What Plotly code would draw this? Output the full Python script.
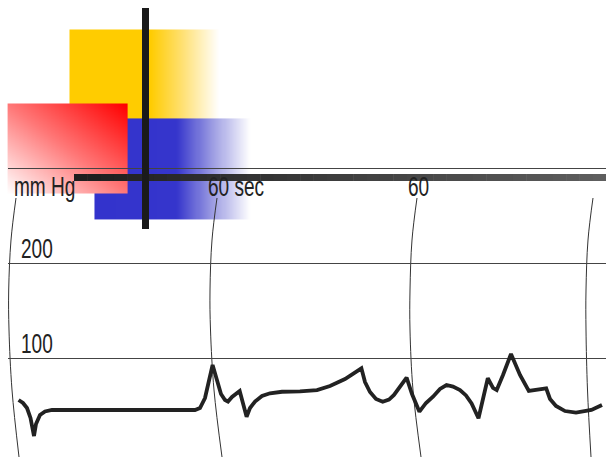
import numpy as np
import plotly.graph_objects as go

# ---- data -------------------------------------------------------------
# blood-pressure trace (x position along the strip, pressure in mmHg)
trace_x = [18.6, 23, 27, 30.5, 34, 36, 40, 45, 52, 195, 200, 205, 212.6, 216, 221, 225, 228,
           232, 239.7, 246.6, 250, 255, 262, 270, 282, 300, 317, 330, 345, 361.4, 365, 370,
           376, 382.7, 389, 394, 400, 406.6, 412, 419.4, 426, 433, 440, 446.5, 453, 460, 466,
           471.6, 478.5, 487.8, 493, 496.7, 503, 511, 520, 528.8, 546.2, 550, 556, 565, 576,
           585, 591.4, 602]
trace_mmHg = [56.3, 53.2, 47.9, 37.4, 18.4, 31.1, 40.5, 44.2, 45.8, 45.8, 47.9, 58.4, 93.2,
              79.5, 62.6, 56.3, 54.7, 59.5, 65.8, 38.7, 47.9, 54.7, 60.5, 63.4, 65.0, 65.3,
              66.8, 71.1, 78.4, 89.7, 75.3, 64.7, 57.4, 54.5, 56.8, 61.6, 70.0, 79.8, 62.6,
              44.0, 53.2, 59.8, 67.9, 72.1, 70.5, 66.8, 61.1, 52.8, 37.1, 79.2, 69.0, 66.8,
              82.6, 104.7, 82.6, 65.8, 68.6, 57.4, 50.0, 44.7, 43.0, 44.2, 45.8, 51.1]

grid_levels = [300, 200, 100]           # mmHg reference lines
pressure_labels = ["200", "100"]
pressure_label_y = [248, 343]
time_labels = ["mm Hg", "60 sec", "60"]
time_label_x = [12, 206, 406]

# time-marker arcs (x at given heights)
arc_y = [198, 240, 290, 330, 390, 457]
arc_x = [
    [16, 11, 8.7, 9, 12, 19],
    [217, 212, 210, 210.5, 214, 222],
    [417, 412, 410, 410, 413, 421],
    [593, 588, 586, 586, 587.5, 591],
]

W, H = 606, 457

fig = go.Figure()

# ---- decorative gradient blocks (pixel axis) ---------------------------
def gradient_block(x0, x1, y0, y1, zfun, colorscale):
    xs = np.linspace(x0, x1, 150)
    ys = np.linspace(y0, y1, 90)
    X, Y = np.meshgrid(xs, ys)
    Z = zfun(X, Y)
    fig.add_trace(go.Heatmap(x=xs, y=ys, z=Z, colorscale=colorscale, zmin=0, zmax=1,
                             zsmooth="best", showscale=False, hoverinfo="skip",
                             xaxis="x", yaxis="y"))

# yellow
gradient_block(70, 218, 30, 119, lambda X, Y: (X - 70) / 148,
               [[0, "#FFCC00"], [0.54, "#FFCC00"], [0.75, "#FFE070"], [1, "#FFFFFF"]])
# blue
gradient_block(95, 250, 119, 219, lambda X, Y: (X - 95) / 155,
               [[0, "#3333CC"], [0.52, "#3535CC"], [0.75, "#9A9AE2"], [1, "#FFFFFF"]])
# red (diagonal)
gradient_block(8, 127, 104, 193,
               lambda X, Y: ((X - 8) / 119 + (193 - Y) / 89) / 2,
               [[0, "#FFFFFF"], [0.5, "#FF7878"], [1, "#FF0000"]])

# arcs
for ax in arc_x:
    fig.add_trace(go.Scatter(x=ax, y=arc_y, mode="lines",
                             line=dict(color="#333333", width=1, shape="spline"),
                             hoverinfo="skip", xaxis="x", yaxis="y"))

# ---- mmHg axis content ------------------------------------------------
for lvl in grid_levels:
    fig.add_trace(go.Scatter(x=[8, W], y=[lvl, lvl], mode="lines",
                             line=dict(color="#444444", width=1),
                             hoverinfo="skip", xaxis="x", yaxis="y2"))

fig.add_trace(go.Scatter(x=trace_x, y=trace_mmHg, mode="lines",
                         line=dict(color="#222222", width=3.8),
                         hoverinfo="skip", xaxis="x", yaxis="y2"))

# ---- thick bars (shapes above) ------------------------------------------
shapes = []
n = 40
bx0, bx1 = 74, W
c0 = np.array([0x1E, 0x1E, 0x1E])
c1 = np.array([0x5E, 0x5E, 0x5E])
for i in range(n):
    xa = bx0 + (bx1 - bx0) * i / n
    xb = bx0 + (bx1 - bx0) * (i + 1) / n + 0.5
    t = i / (n - 1)
    c = (c0 + (c1 - c0) * t).astype(int)
    shapes.append(dict(type="rect", xref="x", yref="y", x0=xa, x1=xb, y0=174, y1=181,
                       fillcolor="rgb(%d,%d,%d)" % tuple(c), line=dict(width=0),
                       layer="above"))
shapes.append(dict(type="rect", xref="x", yref="y", x0=142, x1=149, y0=8, y1=229,
                   fillcolor="#1A1A1A", line=dict(width=0), layer="above"))

annotations = []
font = dict(family="Liberation Sans, Arial, sans-serif", size=28, color="#222222")
for txt, x in zip(time_labels, time_label_x):
    annotations.append(dict(x=x, y=186, xref="x", yref="y", text=txt, showarrow=False,
                            xanchor="left", yanchor="middle", font=font))
for txt, y in zip(pressure_labels, pressure_label_y):
    annotations.append(dict(x=19, y=y, xref="x", yref="y", text=txt, showarrow=False,
                            xanchor="left", yanchor="middle", font=font))

p_top = 100 + 358.5 / 0.95
p_bot = 100 - (H - 358.5) / 0.95

fig.update_layout(
    width=W, height=H,
    margin=dict(l=0, r=0, t=0, b=0),
    paper_bgcolor="white", plot_bgcolor="white",
    showlegend=False,
    xaxis=dict(range=[0, W], visible=False, fixedrange=True),
    yaxis=dict(range=[H, 0], visible=False, fixedrange=True),
    yaxis2=dict(range=[p_bot, p_top], visible=False, overlaying="y", fixedrange=True),
    shapes=shapes,
    annotations=annotations,
)

# the reference lettering is a strongly condensed sans; squeeze the labels horizontally
post = """
document.body.style.margin='0px';
document.body.style.overflow='hidden';
document.querySelectorAll('.annotation-text').forEach(function(t){
  t.style.transformBox='fill-box';
  t.style.transformOrigin='0% 50%';
  t.style.transform='scaleX(0.68)';
});
"""
fig.write_html("out.html", config={"displayModeBar": False}, post_script=post)
